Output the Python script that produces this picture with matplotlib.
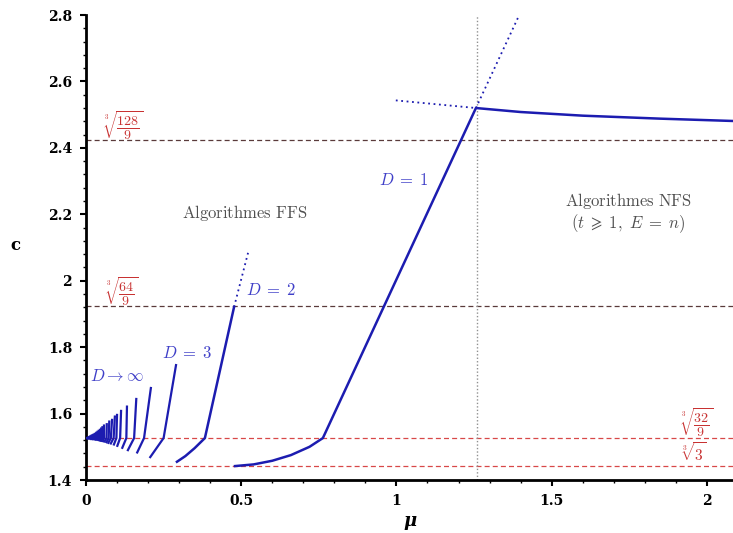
import matplotlib
matplotlib.use("Agg")
import matplotlib.pyplot as plt
from matplotlib.ticker import MultipleLocator

plt.rcParams['mathtext.fontset'] = 'cm'

# ---- data ----
# D = 1 curve (solid)
d1_mu = [0.480, 0.540, 0.600, 0.660, 0.720, 0.763, 1.256, 1.40, 1.60, 1.85, 2.084]
d1_c = [1.442, 1.447, 1.458, 1.475, 1.500, 1.5263, 2.520, 2.508, 2.497, 2.488, 2.481]
# D = 1 dotted extensions
d1_left_mu = [0.998, 1.256]
d1_left_c = [2.543, 2.520]
d1_up_mu = [1.256, 1.394]
d1_up_c = [2.520, 2.797]
# D = 2 curve
d2_mu = [0.293, 0.320, 0.350, 0.383, 0.477]
d2_c = [1.455, 1.472, 1.496, 1.5263, 1.921]
d2_dot_mu = [0.477, 0.522]
d2_dot_c = [1.921, 2.084]
# D >= 3 fan: bottom point, kink (at c = cbrt(32/9)), top point
fan_D = list(range(3, 27))
fan_mu_bot = [0.207, 0.165, 0.135, 0.117, 0.101, 0.090, 0.080, 0.072, 0.066, 0.060, 0.055, 0.050,
              0.046, 0.042, 0.038, 0.034, 0.030, 0.026, 0.022, 0.018, 0.014, 0.010, 0.006, 0.003]
fan_c_bot = [1.469, 1.483, 1.490, 1.497, 1.503, 1.507, 1.510, 1.512, 1.514, 1.516, 1.517, 1.518,
             1.519, 1.520, 1.521, 1.522, 1.522, 1.523, 1.523, 1.524, 1.524, 1.525, 1.525, 1.526]
fan_mu_kink = [0.250, 0.187, 0.155, 0.130, 0.110, 0.098, 0.089, 0.080, 0.073, 0.066, 0.058, 0.053,
               0.049, 0.045, 0.041, 0.037, 0.033, 0.029, 0.025, 0.021, 0.017, 0.013, 0.009, 0.005]
fan_mu_top = [0.290, 0.209, 0.162, 0.132, 0.113, 0.100, 0.093, 0.084, 0.075, 0.067, 0.058, 0.053,
              0.049, 0.045, 0.041, 0.037, 0.033, 0.029, 0.025, 0.021, 0.017, 0.013, 0.009, 0.005]
fan_c_top = [1.746, 1.677, 1.644, 1.621, 1.608, 1.596, 1.591, 1.581, 1.576, 1.568, 1.564, 1.559,
             1.555, 1.551, 1.548, 1.545, 1.542, 1.539, 1.537, 1.535, 1.533, 1.531, 1.529, 1.527]
c_kink = 1.5263

# horizontal reference levels
h_levels = [128 / 9, 64 / 9, 32 / 9, 3.0]
h_labels = [r'$\sqrt[3]{\dfrac{128}{9}}$', r'$\sqrt[3]{\dfrac{64}{9}}$',
            r'$\sqrt[3]{\dfrac{32}{9}}$', r'$\sqrt[3]{3}$']
mu_vertical = 2 ** (1 / 3)

x_ticks = [0, 0.5, 1, 1.5, 2]
x_ticklabels = ['0', '0.5', '1', '1.5', '2']
y_ticks = [1.4, 1.6, 1.8, 2.0, 2.2, 2.4, 2.6, 2.8]
y_ticklabels = ['1.4', '1.6', '1.8', '2', '2.2', '2.4', '2.6', '2.8']

# ---- figure ----
fig = plt.figure(figsize=(7.33, 5.33), dpi=100)
ax = fig.add_axes([0.1173, 0.0994, 0.8827, 0.8724])
ax.set_xlim(0, 2.084)
ax.set_ylim(1.4, 2.8)

blue = '#1c1cb0'
lblue = '#4040c8'

# horizontal dashed lines
for i, lv in enumerate(h_levels):
    col = '#5a3a3a' if i < 2 else '#d84848'
    ax.axhline(lv ** (1 / 3), color=col, lw=0.9, ls=(0, (4, 2.5)), zorder=1)

# vertical dotted line
ax.axvline(mu_vertical, color='#909090', lw=1.0, ls=(0, (1, 1.5)), zorder=1)

# curves
ax.plot(d1_mu, d1_c, color=blue, lw=1.8, zorder=3)
ax.plot(d1_left_mu, d1_left_c, color=blue, lw=1.3, ls=(0, (1, 2)), zorder=3)
ax.plot(d1_up_mu, d1_up_c, color=blue, lw=1.3, ls=(0, (1, 2)), zorder=3)
ax.plot(d2_mu, d2_c, color=blue, lw=1.8, zorder=3)
ax.plot(d2_dot_mu, d2_dot_c, color=blue, lw=1.3, ls=(0, (1, 2)), zorder=3)
for i in range(len(fan_D)):
    ax.plot([fan_mu_bot[i], fan_mu_kink[i], fan_mu_top[i]],
            [fan_c_bot[i], c_kink, fan_c_top[i]], color=blue, lw=1.6, zorder=3,
            solid_joinstyle='round')

# labels
lfs = 12
ax.text(1.024, 2.304, r'$D\;=\;1$', color=lblue, fontsize=lfs, ha='center', va='center')
ax.text(0.596, 1.972, r'$D\;=\;2$', color=lblue, fontsize=lfs, ha='center', va='center')
ax.text(0.325, 1.782, r'$D\;=\;3$', color=lblue, fontsize=lfs, ha='center', va='center')
ax.text(0.100, 1.713, r'$D\rightarrow\infty$', color=lblue, fontsize=lfs, ha='center', va='center')

gray = '#505050'
ax.text(0.512, 2.204, r'$\mathrm{Algorithmes\ FFS}$', color=gray, fontsize=12,
        ha='center', va='center')
ax.text(1.746, 2.240, r'$\mathrm{Algorithmes\ NFS}$', color=gray, fontsize=12,
        ha='center', va='center')
ax.text(1.746, 2.172, r'$(t\;\geqslant\;1,\ E\;=\;n)$', color=gray, fontsize=12,
        ha='center', va='center')

red_lbl = '#c83232'
ax.text(0.119, 2.468, h_labels[0], color=red_lbl, fontsize=10, ha='center', va='center')
ax.text(0.114, 1.966, h_labels[1], color=red_lbl, fontsize=10, ha='center', va='center')
ax.text(1.968, 1.572, h_labels[2], color=red_lbl, fontsize=10, ha='center', va='center')
ax.text(1.958, 1.482, h_labels[3], color=red_lbl, fontsize=11, ha='center', va='center')

# axes styling
for s in ['top', 'right']:
    ax.spines[s].set_visible(False)
for s in ['left', 'bottom']:
    ax.spines[s].set_linewidth(2.0)
    ax.spines[s].set_color('black')

ax.set_xticks(x_ticks)
ax.set_xticklabels(x_ticklabels)
ax.set_yticks(y_ticks)
ax.set_yticklabels(y_ticklabels)
ax.xaxis.set_minor_locator(MultipleLocator(0.1))
ax.yaxis.set_minor_locator(MultipleLocator(0.04))
ax.tick_params(which='major', direction='out', length=4, width=1.5, labelsize=10, pad=6)
ax.tick_params(which='minor', direction='out', length=2, width=1.0)
for lbl in ax.get_xticklabels() + ax.get_yticklabels():
    lbl.set_fontfamily('DejaVu Serif')
    lbl.set_fontweight('bold')

fig.text(15 / 733, 1 - 246 / 533, 'c', fontsize=12, fontweight='bold', family='DejaVu Serif',
         ha='center', va='center')
fig.text(410 / 733, 1 - 521 / 533, 'μ', fontsize=13, fontweight='bold', family='DejaVu Serif',
         style='italic', ha='center', va='center')

fig.savefig('out.png', dpi=100)
